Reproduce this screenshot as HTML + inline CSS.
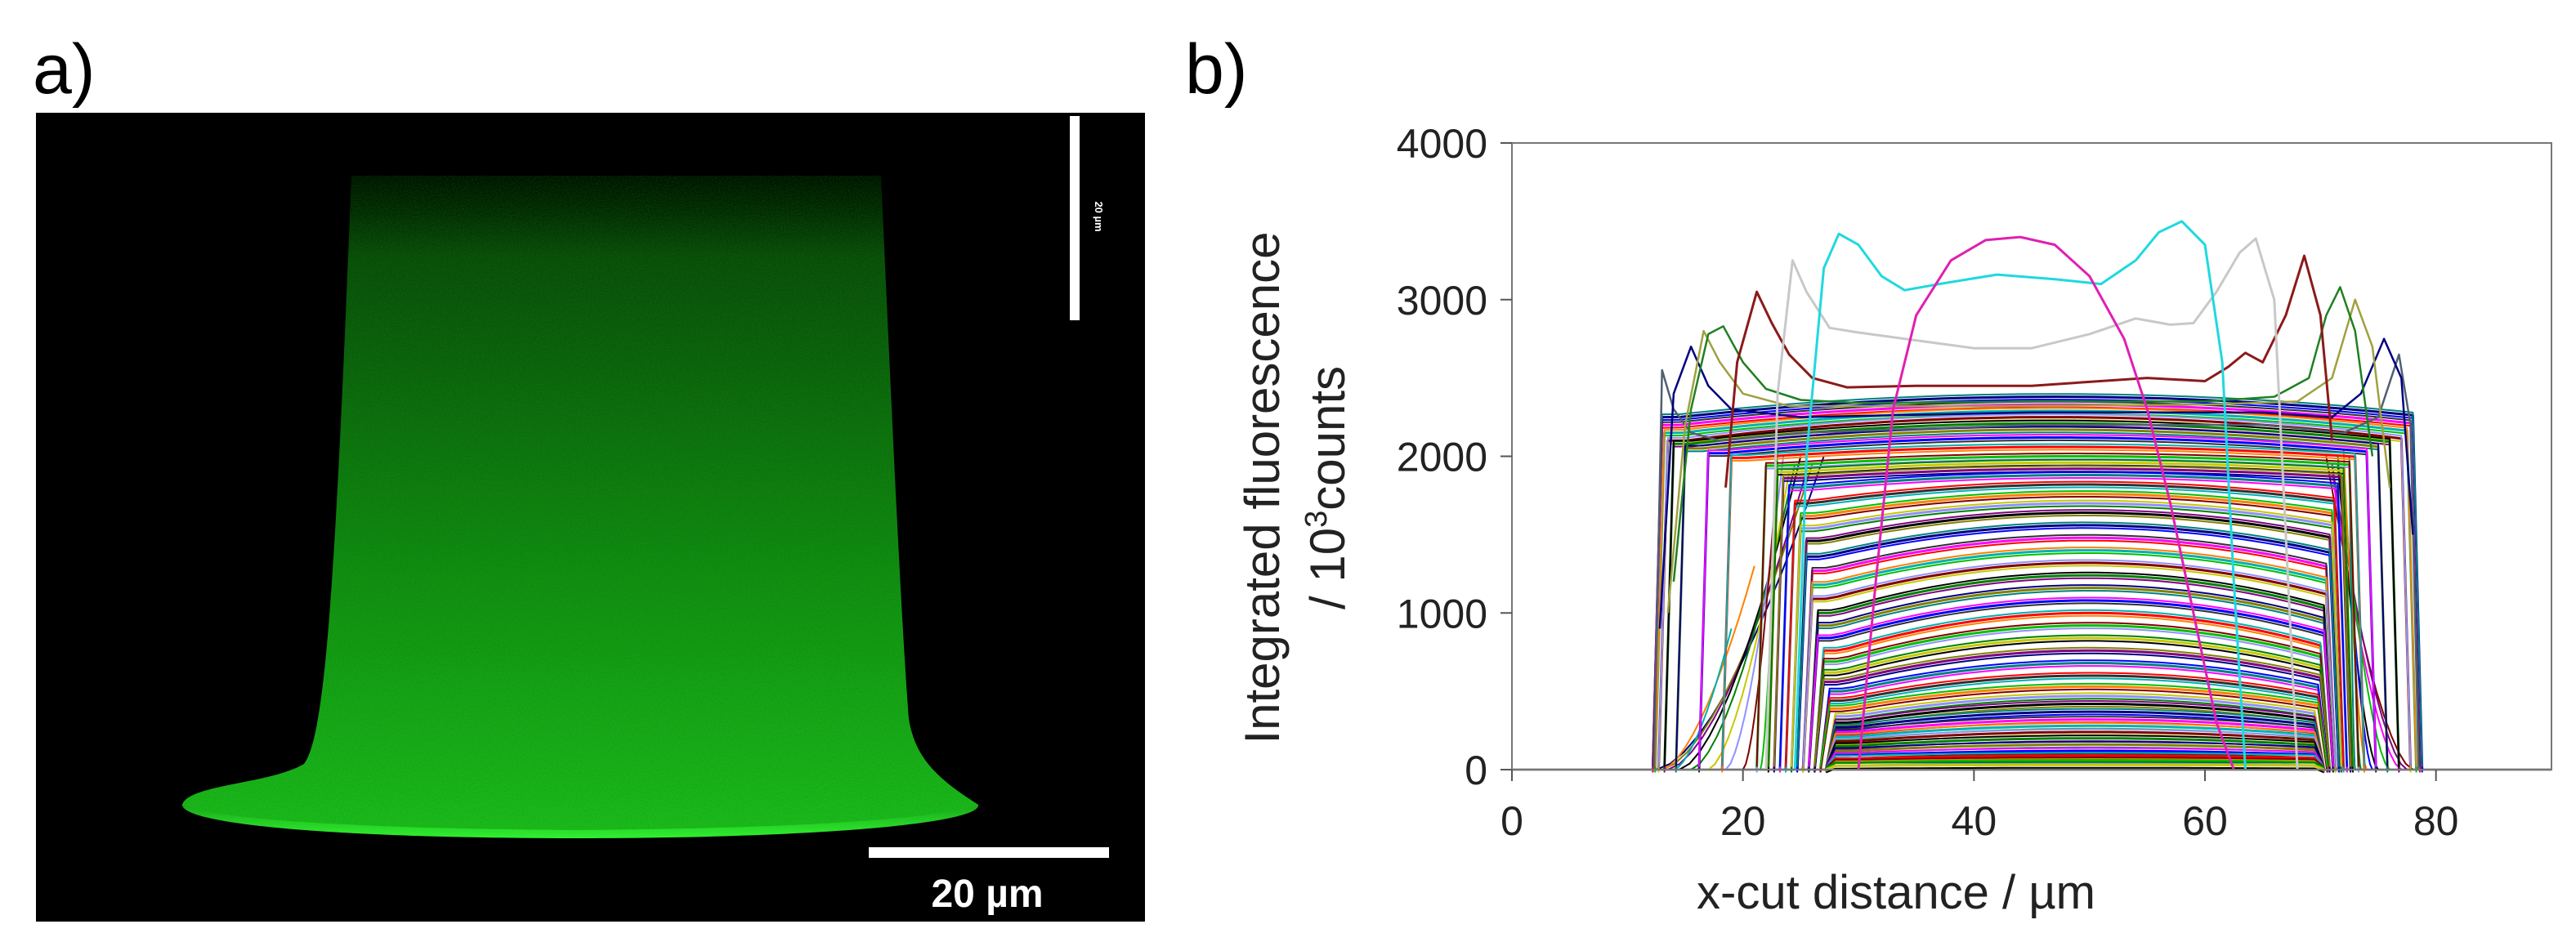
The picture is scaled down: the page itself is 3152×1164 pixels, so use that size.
<!DOCTYPE html>
<html><head><meta charset="utf-8"><style>
html,body{margin:0;padding:0;background:#fff;}
svg{display:block;font-family:"Liberation Sans",Arial,sans-serif;}
</style></head><body>
<svg id="fig" width="3152" height="1164" viewBox="0 0 3152 1164" xmlns="http://www.w3.org/2000/svg">
<defs>
<linearGradient id="gfill" x1="0" y1="0" x2="0" y2="1">
<stop offset="0" stop-color="#0a3a0a" stop-opacity="0"/>
<stop offset="0.12" stop-color="#0b400b"/>
<stop offset="0.6" stop-color="#138a13"/>
<stop offset="1" stop-color="#20c020"/>
</linearGradient>
<linearGradient id="gbase" x1="0" y1="0" x2="0" y2="1">
<stop offset="0" stop-color="#1aa81a"/>
<stop offset="1" stop-color="#30f030"/>
</linearGradient>
<filter id="grain"><feTurbulence type="fractalNoise" baseFrequency="0.6" numOctaves="2" seed="3"/><feColorMatrix values="0 0 0 0 0  0 0.6 0 0 0  0 0 0 0 0  0 0 0 0.35 0"/><feComposite in2="SourceGraphic" operator="in"/></filter>
</defs>
<text x="40" y="114" font-size="86">a)</text>
<rect x="44" y="138" width="1357" height="990" fill="#000"/>
<g>
<path d="M430,215 L1078,215 C1090,480 1102,750 1112,880 C1120,930 1150,955 1197,985 C1200,1008 1000,1024 705,1024 C420,1024 225,1010 223,985 C230,960 330,960 372,935 C398,900 410,720 430,215 Z" fill="url(#gfill)"/>
<path d="M430,215 L1078,215 C1090,480 1102,750 1112,880 C1120,930 1150,955 1197,985 C1200,1008 1000,1024 705,1024 C420,1024 225,1010 223,985 C230,960 330,960 372,935 C398,900 410,720 430,215 Z" fill="#fff" filter="url(#grain)"/>
<path d="M223,985 C260,1002 420,1014 705,1016 C980,1014 1150,1002 1197,985 C1200,1008 1000,1026 705,1026 C420,1026 225,1010 223,985 Z" fill="url(#gbase)"/>
</g>
<rect x="1063" y="1037" width="294" height="13" fill="#fff"/>
<text x="1208" y="1110" font-size="48" font-weight="bold" fill="#fff" text-anchor="middle">20 µm</text>
<rect x="1309" y="142" width="12" height="250" fill="#fff"/>
<text x="1340" y="265" font-size="13" font-weight="bold" fill="#fff" text-anchor="middle" transform="rotate(90 1340 265)">20 µm</text>

<text x="1450" y="114" font-size="86">b)</text>
<g id="chart"></g>
</svg>
<script>
// ---- chart data ----
const xTicks = [0, 20, 40, 60, 80];
const yTicks = [0, 1000, 2000, 3000, 4000];
const magentaX = [30, 31.5, 33, 35, 38, 41, 44, 47, 50, 53, 55, 57, 59, 61, 62.5];
const magentaY = [0, 1200, 2300, 2900, 3250, 3380, 3400, 3350, 3150, 2750, 2300, 1700, 1000, 300, 0];
const cyanX = [24.5, 25.5, 27, 28.3, 30, 32, 34, 37, 42, 47, 51, 54, 56, 58, 60, 61.5, 62.5, 63.5];
const cyanY = [0, 2000, 3200, 3420, 3350, 3150, 3060, 3100, 3160, 3130, 3100, 3250, 3430, 3500, 3350, 2600, 1200, 0];
const grayX = [22, 23, 24.3, 25.5, 27.5, 30, 35, 40, 45, 50, 54, 57, 59, 61, 63, 64.4, 66, 67, 68];
const grayY = [0, 2400, 3250, 3050, 2820, 2790, 2740, 2690, 2690, 2780, 2880, 2840, 2850, 3050, 3300, 3390, 3000, 1500, 0];
const redX = [18.5, 19.5, 21.2, 22.5, 24, 26, 29, 35, 45, 55, 60, 62, 63.5, 65, 67, 68.6, 70, 71];
const redY = [1800, 2600, 3050, 2850, 2650, 2500, 2440, 2450, 2450, 2500, 2480, 2570, 2660, 2600, 2900, 3280, 2900, 2100];
const greenX = [14, 15.5, 17, 18.3, 20, 22, 25, 30, 45, 60, 66, 69, 70.5, 71.7, 73, 74.5];
const greenY = [1200, 2300, 2780, 2830, 2600, 2430, 2360, 2340, 2350, 2350, 2380, 2500, 2900, 3080, 2800, 2000];
const oliveX = [13.5, 15, 16.6, 18, 20, 24, 40, 60, 68, 71, 73, 74.5, 76];
const oliveY = [1000, 2200, 2800, 2600, 2400, 2320, 2320, 2330, 2350, 2500, 3000, 2700, 1800];
const navyX = [12.8, 14, 15.5, 17, 19, 25, 45, 65, 71, 73.5, 75.5, 77, 78];
const navyY = [900, 2400, 2700, 2450, 2300, 2250, 2280, 2280, 2250, 2400, 2750, 2500, 1500];
const slateX = [12.3, 13, 14, 15.5, 18, 25, 45, 65, 72, 75, 76.8, 77.8, 78.5];
const slateY = [0, 2550, 2300, 2150, 2100, 2150, 2200, 2200, 2150, 2250, 2650, 2200, 0];
const domePeak = [2380, 2330, 2290, 2250, 2210, 2170, 2120, 2060, 2000, 1960, 1920, 1880, 1820, 1760, 1700, 1640, 1560, 1480, 1400, 1320, 1240, 1160, 1080, 1000, 920, 840, 760, 680, 600, 530, 470, 420, 370, 320, 280, 240, 200, 160, 120, 90, 60, 30];
const domeEdge = [2250, 2200, 2150, 2100, 2080, 2050, 2020, 1990, 1940, 1900, 1860, 1800, 1700, 1620, 1540, 1460, 1360, 1270, 1180, 1090, 1000, 920, 840, 760, 690, 620, 560, 500, 440, 390, 340, 300, 270, 240, 210, 180, 150, 120, 90, 70, 45, 25];
const domeLeft = [13, 13, 13.2, 13.5, 14, 15, 17, 19, 22, 23, 23.5, 24, 24.5, 25, 25, 25.5, 25.5, 26, 26, 26, 26.5, 26.5, 26.5, 27, 27, 27, 27, 27.5, 27.5, 27.5, 28, 28, 28, 28, 28, 28, 28, 28, 28, 28, 28, 28];
const domeRight = [78, 77.8, 77.5, 77, 76, 75, 74, 73, 72.5, 72, 71.8, 71.5, 71.2, 71, 71, 70.8, 70.8, 70.5, 70.5, 70.5, 70.3, 70.3, 70.3, 70, 70, 70, 70, 69.8, 69.8, 69.8, 69.5, 69.5, 69.5, 69.5, 69.5, 69.5, 69.5, 69.5, 69.5, 69.5, 69.5, 69.5];
const rampStart = [12.5, 13, 13.5, 14.5, 15.5, 17, 18.5, 20, 21.5, 13, 14];
const rampEnd = [27, 26, 25.5, 25, 24.5, 24, 23.5, 23, 23, 21, 19];
const rampTop = [2000, 1950, 1900, 2000, 1950, 1900, 2000, 1950, 2050, 1300, 900];
const rampStartR = [78, 77.5, 77, 76, 75, 74.5, 74, 73.5, 73];
const rampEndR = [70.5, 71, 71, 71.5, 71.5, 72, 72, 72.5, 72.5];
const rampTopR = [2000, 1950, 1900, 2000, 1950, 1900, 2050, 1950, 2000];
const palette = ['#000080','#ff00ff','#00b0b0','#800000','#008000','#808000','#0000ff','#ff0000','#00c000','#c8c800','#800080','#008080','#303030','#ff8000','#9090ff','#000000'];

// ---- drawing ----
const NS = 'http://www.w3.org/2000/svg';
const chart = document.getElementById('chart');
const X0 = 1850, X1 = 3122, Y0 = 942, Y1 = 175;
const xMin = 0, xMax = 90, yMin = 0, yMax = 4000;
function sx(v){ return X0 + (v - xMin) / (xMax - xMin) * (X1 - X0); }
function sy(v){ return Y0 - (v - yMin) / (yMax - yMin) * (Y0 - Y1); }
function mk(tag, attrs, parent){
  const e = document.createElementNS(NS, tag);
  for (const k in attrs) e.setAttribute(k, attrs[k]);
  (parent || chart).appendChild(e);
  return e;
}
function poly(xs, ys, color, w, name){
  const pts = xs.map((x, i) => sx(x).toFixed(1) + ',' + sy(ys[i]).toFixed(1)).join(' ');
  const p = mk('polyline', {points: pts, fill: 'none', stroke: color, 'stroke-width': w, 'stroke-linejoin': 'round'});
  
  
  return p;
}
const base = mk('line', {x1: sx(0), y1: sy(0), x2: sx(90), y2: sy(0), stroke: '#999', 'stroke-width': 3});


rampStart.forEach((s, i) => {
  const e = rampEnd[i], t = rampTop[i];
  const xs = [], ys = [];
  for (let k = 0; k <= 12; k++){ const f = k / 12; xs.push(s + (e - s) * f); ys.push(t * Math.pow(f, 1.6)); }
  poly(xs, ys, palette[(i * 5) % palette.length], 2, 'ramp-left-' + i);
});
rampStartR.forEach((s, i) => {
  const e = rampEndR[i], t = rampTopR[i];
  const xs = [], ys = [];
  for (let k = 0; k <= 12; k++){ const f = k / 12; xs.push(s + (e - s) * f); ys.push(t * Math.pow(f, 1.6)); }
  poly(xs, ys, palette[(i * 7 + 3) % palette.length], 2, 'ramp-right-' + i);
});
domePeak.forEach((pk, i) => {
  const L = domeLeft[i], R = domeRight[i], ed = domeEdge[i];
  const c = (L + R) / 2 + 1.5, half = (R - L) / 2;
  const xs = [L - 0.8], ys = [0];
  for (let k = 0; k <= 40; k++){
    const x = L + (R - L) * k / 40;
    const u = (x - c) / half;
    xs.push(x); ys.push(ed + (pk - ed) * Math.max(0, 1 - u * u));
  }
  xs.push(R + 0.8); ys.push(0);
  poly(xs, ys, palette[i % palette.length], 3, 'dome-profile-' + i);
  poly(xs, ys.map(v => v - 18), palette[(i + 6) % palette.length], 2, 'dome-profile-b-' + i);
  poly(xs, ys.map(v => v + 18), palette[(i + 11) % palette.length], 2, 'dome-profile-c-' + i);
});
poly(slateX, slateY, '#506070', 2.5, 'profile-slate');
poly(navyX, navyY, '#000080', 2.5, 'profile-navy');
poly(oliveX, oliveY, '#a0a040', 2.5, 'profile-olive');
poly(greenX, greenY, '#208020', 2.5, 'profile-green');
poly(redX, redY, '#8b1a1a', 3, 'profile-darkred');
poly(grayX, grayY, '#c8c8c8', 3, 'profile-lightgray');
poly(cyanX, cyanY, '#20d8e0', 3, 'profile-cyan');
poly(magentaX, magentaY, '#e020b0', 3, 'profile-magenta');

const fr = mk('rect', {x: X0, y: Y1, width: X1 - X0, height: Y0 - Y1, fill: 'none', stroke: '#777', 'stroke-width': 2});


yTicks.forEach(v => {
  const t = mk('line', {x1: X0 - 14, x2: X0, y1: sy(v), y2: sy(v), stroke: '#555', 'stroke-width': 2});
  
  
  const l = mk('text', {x: X0 - 30, y: sy(v) + 18, 'font-size': 50, 'text-anchor': 'end', fill: '#222'});
  
  
  l.textContent = v;
});
xTicks.forEach(v => {
  const t = mk('line', {x1: sx(v), x2: sx(v), y1: Y0, y2: Y0 + 14, stroke: '#555', 'stroke-width': 2});
  
  
  const l = mk('text', {x: sx(v), y: Y0 + 80, 'font-size': 50, 'text-anchor': 'middle', fill: '#222'});
  
  
  l.textContent = v;
});
const xt = mk('text', {x: 2320, y: 1112, 'font-size': 58, 'text-anchor': 'middle', fill: '#222'});


xt.textContent = 'x-cut distance / µm';
const yt = mk('text', {x: 0, y: 0, 'font-size': 60, 'text-anchor': 'middle', fill: '#222', transform: 'translate(1565,597) rotate(-90)'});


yt.textContent = 'Integrated fluorescence';
const yt2 = mk('text', {x: 0, y: 0, 'font-size': 60, 'text-anchor': 'middle', fill: '#222', transform: 'translate(1645,597) rotate(-90)'});


yt2.innerHTML = '/ 10<tspan font-size="38" dy="-22">3</tspan><tspan dy="22">counts</tspan>';
</script>
</body></html>
